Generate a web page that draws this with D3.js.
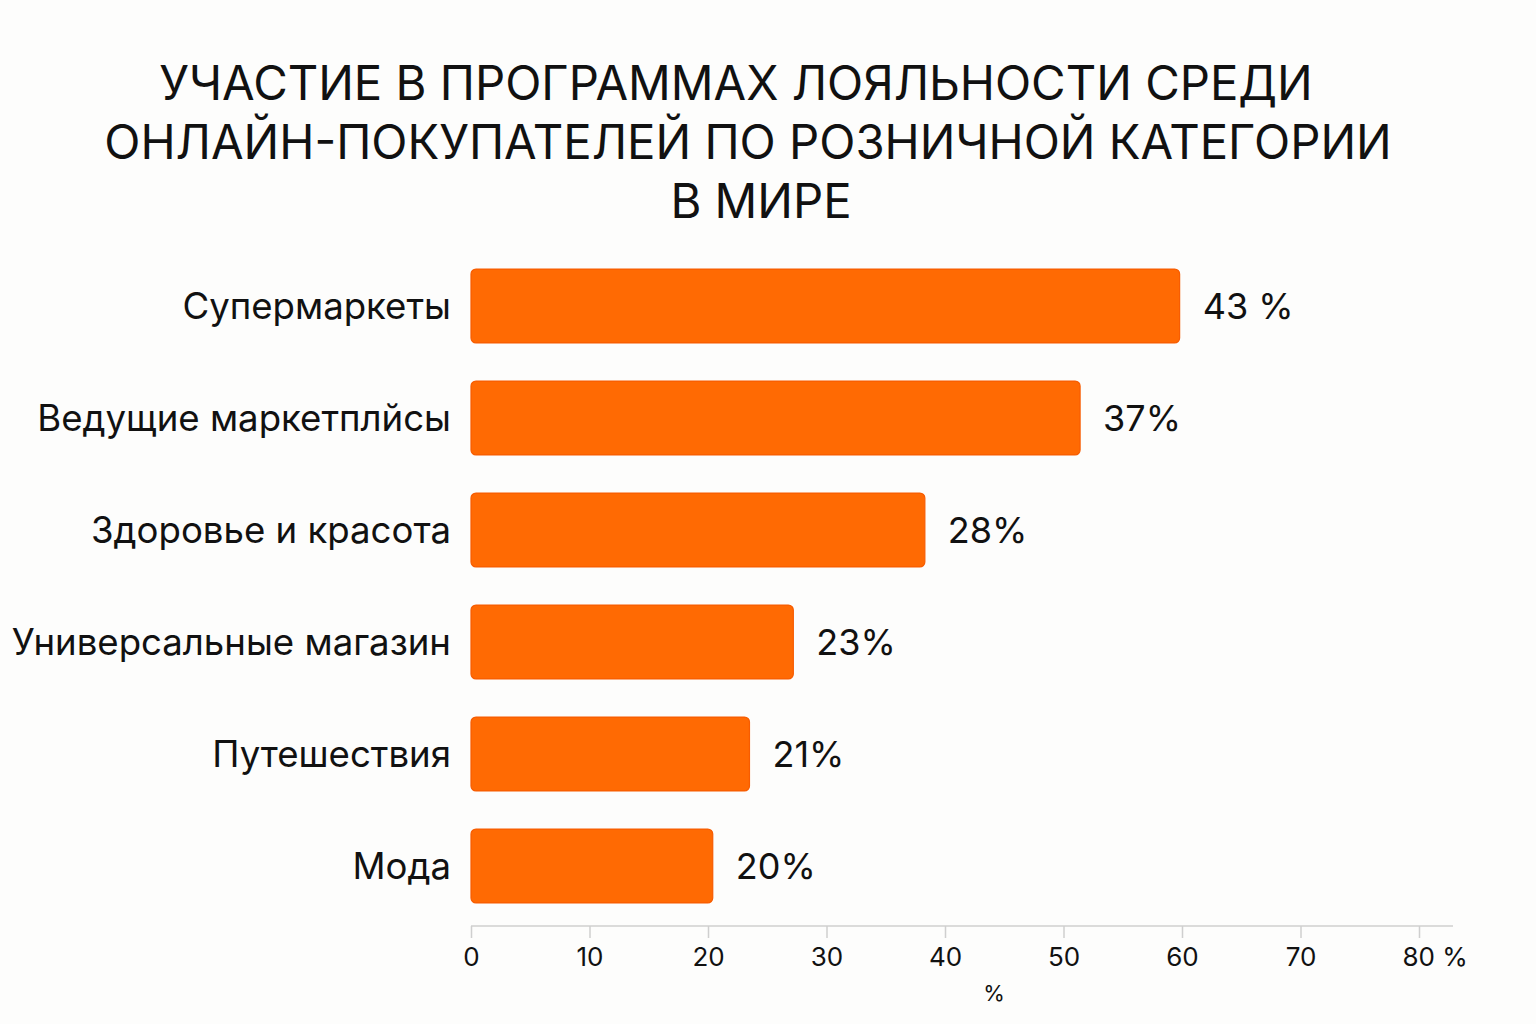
<!DOCTYPE html>
<html>
<head>
<meta charset="utf-8">
<script src="https://cdn.jsdelivr.net/npm/d3@7/dist/d3.min.js"></script>
<style>
  html, body { margin: 0; padding: 0; background: #fdfdfc; }
  svg { display: block; }
  text { font-family: Inter, "Noto Sans", sans-serif; fill: #111; }
</style>
</head>
<body>
<svg id="chart" width="1536" height="1024"></svg>
<script>
const titleLines = [
  "УЧАСТИЕ В ПРОГРАММАХ ЛОЯЛЬНОСТИ СРЕДИ",
  "ОНЛАЙН-ПОКУПАТЕЛЕЙ ПО РОЗНИЧНОЙ КАТЕГОРИИ",
  "В МИРЕ"
];
const categories = [
  "Супермаркеты",
  "Ведущие маркетплйсы",
  "Здоровье и красота",
  "Универсальные магазин",
  "Путешествия",
  "Мода"
];
// bar lengths as drawn against the axis
const barValues = [59.8, 51.4, 38.3, 27.2, 23.5, 20.4];
// printed value labels
const valueLabels = ["43 %", "37%", "28%", "23%", "21%", "20%"];
const tickValues = [0, 10, 20, 30, 40, 50, 60, 70, 80];
const tickLabels = ["0", "10", "20", "30", "40", "50", "60", "70", "80 %"];
const axisTitle = "%";

const svg = d3.select("#chart");
const x0 = 471, x80 = 1419;
const x = d3.scaleLinear().domain([0, 80]).range([x0, x80]);
const y = d3.scaleBand().domain(categories).range([250, 922]).paddingInner(0.34).paddingOuter(0.17);

// title
svg.append("g").selectAll("text").data(titleLines).join("text")
  .attr("x", (d, i) => [736, 748, 761][i])
  .attr("y", (d, i) => 100 + i * 59)
  .attr("text-anchor", "middle")
  .style("font-size", "47.3px")
  .text(d => d);

// bars
svg.append("g").selectAll("rect").data(categories).join("rect")
  .attr("x", x(0))
  .attr("y", d => y(d))
  .attr("width", (d, i) => x(barValues[i]) - x(0))
  .attr("height", y.bandwidth())
  .attr("rx", 5)
  .attr("fill", "#ff6a03")
  .attr("stroke", "#f75c00")
  .attr("stroke-width", 1.2);

// category labels
svg.append("g").selectAll("text").data(categories).join("text")
  .attr("x", 451)
  .attr("y", d => y(d) + y.bandwidth() / 2)
  .attr("dy", "0.36em")
  .attr("text-anchor", "end")
  .style("font-size", "36.6px")
  .text(d => d);

// value labels
svg.append("g").selectAll("text").data(categories).join("text")
  .attr("x", (d, i) => x(barValues[i]) + 23)
  .attr("y", d => y(d) + y.bandwidth() / 2)
  .attr("dy", "0.36em")
  .style("font-size", "36px")
  .text((d, i) => valueLabels[i]);

// axis
const axis = d3.axisBottom(x).tickValues(tickValues).tickSize(12).tickPadding(10)
  .tickFormat((d, i) => tickLabels[i]);
const gx = svg.append("g").attr("transform", "translate(0,926)").call(axis);
gx.select(".domain").attr("stroke", "#cfcfcf").attr("stroke-width", 1.5)
  .attr("d", `M${x0},0H1453`);
gx.selectAll(".tick line").attr("stroke", "#cfcfcf").attr("stroke-width", 1.5);
gx.selectAll(".tick text").style("font-size", "26px").attr("fill", "#111")
  .style("font-family", "Inter, 'Noto Sans', sans-serif");
gx.selectAll(".tick text").filter((d, i) => i === tickValues.length - 1).attr("dx", "0.6em");

svg.append("text").attr("x", 994).attr("y", 1001).attr("text-anchor", "middle")
  .style("font-size", "22px").text(axisTitle);
</script>
</body>
</html>
